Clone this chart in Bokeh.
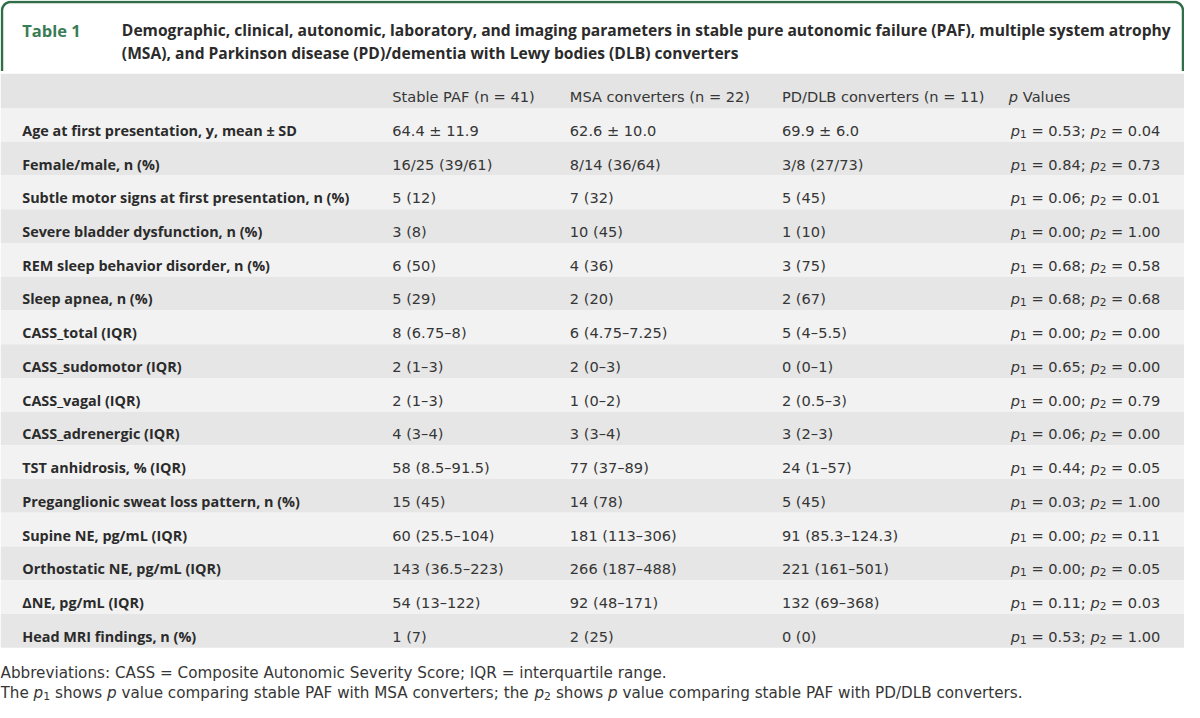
from bokeh.plotting import figure
from bokeh.models import Range1d
from bokeh.core.properties import value
from bokeh.embed import file_html
from bokeh.resources import INLINE
import numpy as np

# ---------------- data ----------------
table_no = "Table 1"
title_lines = [
    "Demographic, clinical, autonomic, laboratory, and imaging parameters in stable pure autonomic failure (PAF), multiple system atrophy",
    "(MSA), and Parkinson disease (PD)/dementia with Lewy bodies (DLB) converters",
]
col_headers = ["Stable PAF (n = 41)", "MSA converters (n = 22)", "PD/DLB converters (n = 11)"]
pval_header = "Values"

labels = [
    "Age at first presentation, y, mean ± SD",
    "Female/male, n (%)",
    "Subtle motor signs at first presentation, n (%)",
    "Severe bladder dysfunction, n (%)",
    "REM sleep behavior disorder, n (%)",
    "Sleep apnea, n (%)",
    "CASS_total (IQR)",
    "CASS_sudomotor (IQR)",
    "CASS_vagal (IQR)",
    "CASS_adrenergic (IQR)",
    "TST anhidrosis, % (IQR)",
    "Preganglionic sweat loss pattern, n (%)",
    "Supine NE, pg/mL (IQR)",
    "Orthostatic NE, pg/mL (IQR)",
    "ΔNE, pg/mL (IQR)",
    "Head MRI findings, n (%)",
]
stable_paf = ["64.4 ± 11.9", "16/25 (39/61)", "5 (12)", "3 (8)", "6 (50)", "5 (29)",
              "8 (6.75–8)", "2 (1–3)", "2 (1–3)", "4 (3–4)", "58 (8.5–91.5)", "15 (45)",
              "60 (25.5–104)", "143 (36.5–223)", "54 (13–122)", "1 (7)"]
msa_conv = ["62.6 ± 10.0", "8/14 (36/64)", "7 (32)", "10 (45)", "4 (36)", "2 (20)",
            "6 (4.75–7.25)", "2 (0–3)", "1 (0–2)", "3 (3–4)", "77 (37–89)", "14 (78)",
            "181 (113–306)", "266 (187–488)", "92 (48–171)", "2 (25)"]
pd_dlb_conv = ["69.9 ± 6.0", "3/8 (27/73)", "5 (45)", "1 (10)", "3 (75)", "2 (67)",
               "5 (4–5.5)", "0 (0–1)", "2 (0.5–3)", "3 (2–3)", "24 (1–57)", "5 (45)",
               "91 (85.3–124.3)", "221 (161–501)", "132 (69–368)", "0 (0)"]
p1_values = ["0.53", "0.84", "0.06", "0.00", "0.68", "0.68", "0.00", "0.65",
             "0.00", "0.06", "0.44", "0.03", "0.00", "0.00", "0.11", "0.53"]
p2_values = ["0.04", "0.73", "0.01", "1.00", "0.58", "0.68", "0.00", "0.00",
             "0.79", "0.00", "0.05", "1.00", "0.11", "0.05", "0.03", "1.00"]
footnote_1 = "Abbreviations: CASS = Composite Autonomic Severity Score; IQR = interquartile range."

# ---------------- layout / style ----------------
W_PX, H_PX = 1184, 702
XR, YR = 1200.0, 718.0
SX = W_PX / XR
GREEN = "#2f6e49"
TITLE_GREEN = "#3a7c55"
HEAD_BG = "#e4e4e4"
ROW_BG = ["#f2f2f2", "#e6e6e6"]
TXT = "#2b2b2b"
VAL_TXT = "#363636"

LABEL_FONT = value("Open Sans")
VAL_FONT = value("DejaVu Sans")
VS = 14.6          # value font size (px)
FS = 15.2          # footnote font size (px)

HEAD_TOP, HEAD_BOT = 75.0, 110.0
ROW_H = 34.5
X_LABEL = 22
X_COLS = [397, 577, 792]
X_P = 1024

# DejaVu Sans advance widths (units of 2048/em) for text layout
_W = {" ": 651, ".": 651, ",": 651, ";": 690, ":": 690, "=": 1716, "/": 690, "(": 799, ")": 799,
      "a": 1255, "b": 1300, "c": 1126, "d": 1300, "e": 1260, "f": 721, "g": 1300, "h": 1298,
      "i": 569, "j": 569, "k": 1186, "l": 569, "m": 1995, "n": 1298, "o": 1253, "p": 1300,
      "q": 1300, "r": 842, "s": 1067, "t": 803, "u": 1298, "v": 1212, "w": 1675, "x": 1212,
      "y": 1212, "z": 1075, "A": 1401, "B": 1405, "C": 1430, "D": 1577, "E": 1294, "F": 1178,
      "G": 1587, "H": 1540, "I": 604, "L": 1141, "M": 1767, "P": 1235, "S": 1300, "T": 1251,
      "V": 1401}


def tw(s, size):
    return sum(_W.get(c, 1303) for c in s) / 2048.0 * size / SX


p = figure(width=W_PX, height=H_PX, x_range=Range1d(0, XR), y_range=Range1d(YR, 0),
           output_backend="svg", toolbar_location=None, min_border=0)
p.axis.visible = False
p.grid.visible = False
p.outline_line_color = None
p.background_fill_color = "white"
p.border_fill_color = "white"


def piece(x, y, txt, size, style="normal"):
    """draw txt starting at x (leading spaces become an x offset); return x after it"""
    lead = len(txt) - len(txt.lstrip(" "))
    p.text(x=[x + tw(" " * lead, size)], y=[y], text=[txt.strip(" ")], text_font=VAL_FONT,
           text_font_style=style, text_font_size=f"{size:.1f}px", text_color=VAL_TXT,
           text_baseline="alphabetic")
    return x + tw(txt, size)


# green header frame with rounded top corners
r = 9.0
t = np.linspace(np.pi, 1.5 * np.pi, 12)
left_arc_x = 1.5 + r + r * np.cos(t)
left_arc_y = 1.5 + r + r * np.sin(t)
t2 = np.linspace(1.5 * np.pi, 2 * np.pi, 12)
right_arc_x = XR - 1.5 - r + r * np.cos(t2)
right_arc_y = 1.5 + r + r * np.sin(t2)
fx = np.concatenate([[1.5], left_arc_x, right_arc_x, [XR - 1.5]])
fy = np.concatenate([[72.0], left_arc_y, right_arc_y, [72.0]])
p.line(fx, fy, line_color=GREEN, line_width=2.5)

# title
p.text(x=[X_LABEL], y=[30.5], text=[table_no], text_font=LABEL_FONT, text_font_style="bold",
       text_font_size="16.5px", text_color=TITLE_GREEN, text_baseline="alphabetic")
p.text(x=[123, 123], y=[30.5, 53.5], text=title_lines, text_font=LABEL_FONT,
       text_font_style="bold", text_font_size="15.6px", text_color=TXT,
       text_baseline="alphabetic")

# header band
p.quad(left=[0], right=[XR], top=[HEAD_TOP], bottom=[HEAD_BOT], fill_color=HEAD_BG, line_color=None)
hb = (HEAD_TOP + HEAD_BOT) / 2 + 5.5
p.text(x=X_COLS, y=[hb] * 3, text=col_headers, text_font=VAL_FONT, text_font_size=f"{VS}px",
       text_color=VAL_TXT, text_baseline="alphabetic")
xh = piece(X_P - 2, hb, "p", VS, "italic")
piece(xh, hb, " " + pval_header, VS)

# body rows
n = len(labels)
tops = [HEAD_BOT + ROW_H * i for i in range(n)]
p.quad(left=[0] * n, right=[XR] * n, top=tops, bottom=[tt + ROW_H for tt in tops],
       fill_color=[ROW_BG[i % 2] for i in range(n)], line_color=None)
base = [tt + ROW_H / 2 + 5.5 for tt in tops]
p.text(x=[X_LABEL] * n, y=base, text=labels, text_font=LABEL_FONT, text_font_style="bold",
       text_font_size="14.4px", text_color=TXT, text_baseline="alphabetic")
for xc, col in zip(X_COLS, [stable_paf, msa_conv, pd_dlb_conv]):
    p.text(x=[xc] * n, y=base, text=col, text_font=VAL_FONT, text_font_size=f"{VS}px",
           text_color=VAL_TXT, text_baseline="alphabetic")

# p values: italic p with subscripts (pieces laid out one after another)
SUB = VS * 0.72
cols = {"p": ([], [], []), "s": ([], [], []), "t": ([], [], [])}
for i in range(n):
    x = X_P
    for txt, kind in [("p", "p"), ("1", "s"), (f" = {p1_values[i]}; ", "t"), ("p", "p"),
                      ("2", "s"), (f" = {p2_values[i]}", "t")]:
        size = SUB if kind == "s" else VS
        lead = len(txt) - len(txt.lstrip(" "))
        cols[kind][0].append(x + tw(" " * lead, size))
        cols[kind][1].append(base[i] + (3.5 if kind == "s" else 0))
        cols[kind][2].append(txt.strip(" "))
        x += tw(txt, size)
p.text(x=cols["p"][0], y=cols["p"][1], text=cols["p"][2], text_font=VAL_FONT,
       text_font_style="italic", text_font_size=f"{VS}px", text_color=VAL_TXT,
       text_baseline="alphabetic")
p.text(x=cols["s"][0], y=cols["s"][1], text=cols["s"][2], text_font=VAL_FONT,
       text_font_size=f"{SUB:.1f}px", text_color=VAL_TXT, text_baseline="alphabetic")
p.text(x=cols["t"][0], y=cols["t"][1], text=cols["t"][2], text_font=VAL_FONT,
       text_font_size=f"{VS}px", text_color=VAL_TXT, text_baseline="alphabetic")

# footnotes
F1Y, F2Y = 688.0, 708.0
p.text(x=[0], y=[F1Y], text=[footnote_1], text_font=VAL_FONT, text_font_size=f"{FS}px",
       text_color=VAL_TXT, text_baseline="alphabetic")
FSUB = FS * 0.72
pieces = [("The ", "n"), ("p", "i"), ("1", "s"), (" shows ", "n"), ("p", "i"),
          (" value comparing stable PAF with MSA converters; the ", "n"), ("p", "i"), ("2", "s"),
          (" shows ", "n"), ("p", "i"), (" value comparing stable PAF with PD/DLB converters.", "n")]
x = 0.0
for txt, kind in pieces:
    if kind == "s":
        x = piece(x, F2Y + 3.5, txt, FSUB)
    else:
        x = piece(x, F2Y, txt, FS, "italic" if kind == "i" else "normal")

open("out.html", "w").write(file_html(p, INLINE))
